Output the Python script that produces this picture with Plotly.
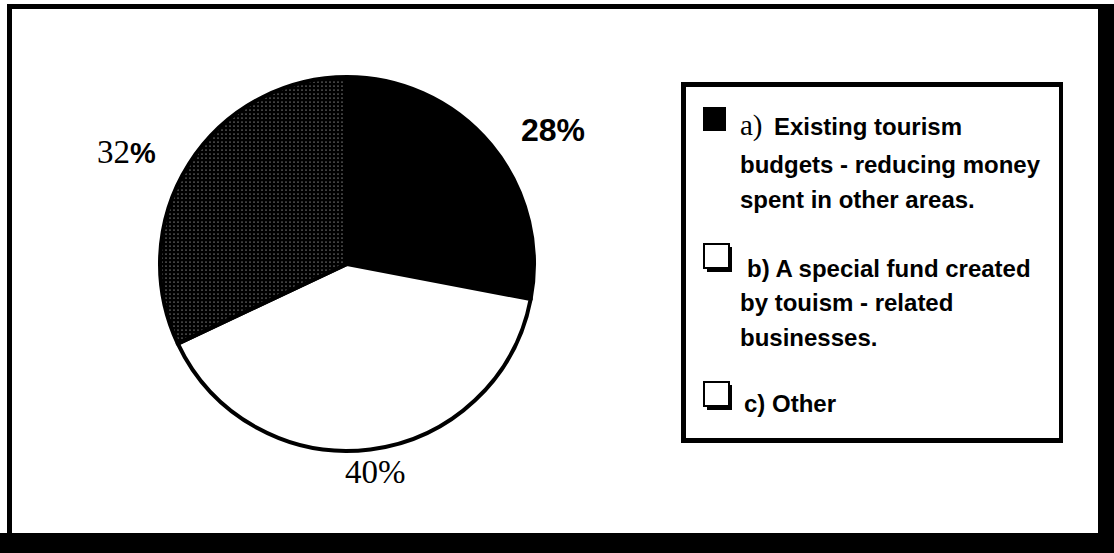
import plotly.graph_objects as go

# Survey answers: how should tourism promotion be funded?
categories = ["a) Existing tourism budgets", "b) Special fund from tourism businesses", "c) Other"]
shares = [28, 40, 32]

# Legend wording, split into the printed lines
legend_lines = [
    ["Existing tourism", "budgets - reducing money", "spent in other areas."],
    ["b) A special fund created", "by touism - related", "businesses."],
    ["c) Other"],
]

W, H = 1114, 553
SANS = "Liberation Sans, Arial, sans-serif"
SERIF = "Liberation Serif, Times New Roman, serif"


def px(x):
    return x / W


def py(y):
    return 1 - y / H


# pie geometry in pixels
cx, cy, r = 347, 264, 187

fig = go.Figure(
    go.Pie(
        labels=categories,
        values=shares,
        sort=False,
        direction="clockwise",
        rotation=0,
        textinfo="none",
        hoverinfo="label+percent",
        showlegend=False,
        marker=dict(
            colors=["black", "white", "black"],
            line=dict(color="black", width=4),
            pattern=dict(
                shape=["", "", "."],
                fgcolor="white",
                bgcolor="black",
                size=4,
                solidity=0.06,
                fillmode="replace",
            ),
        ),
        domain=dict(x=[px(cx - r), px(cx + r)], y=[py(cy + r), py(cy - r)]),
    )
)

shapes = []


def rect(x0, y0, x1, y1, fill, line_color=None, line_width=0, layer="above"):
    shapes.append(
        dict(
            type="rect", xref="paper", yref="paper",
            x0=px(x0), x1=px(x1), y0=py(y1), y1=py(y0),
            fillcolor=fill,
            line=dict(color=line_color or fill, width=line_width),
            layer=layer,
        )
    )


# outer frame with heavy shadow on the right and bottom
rect(7, 4, 1099, 9, "black")
rect(7, 4, 12, 534, "black")
rect(1098, 4, W, H, "black")
rect(0, 533, W, H, "black")

# legend panel
rect(681, 82, 1063, 443, "black")
rect(686, 87, 1059, 438, "white")

# legend swatches: filled square, then two raised check boxes
rect(703, 107, 726, 131, "black")
for top in (244, 382):
    rect(707, top + 3, 732, top + 28, "black")
    rect(704, top, 729, top + 24, "white", "black", 2)

annotations = []


def text(x, y, s, size, family, anchor="left", bold=False, color="black"):
    annotations.append(
        dict(
            xref="paper", yref="paper", x=px(x), y=py(y),
            text=f"<b>{s}</b>" if bold else s,
            showarrow=False, xanchor=anchor, yanchor="middle",
            font=dict(size=size, family=family, color=color),
        )
    )


# slice labels
text(553, 130, f"{shares[0]}%", 32, SANS, anchor="center", bold=True)
text(375, 472, f"{shares[1]}%", 33, SERIF, anchor="center")
text(
    95, 152,
    f"{shares[2]}<span style='font-family:{SANS};font-weight:bold;font-size:29px'>%</span>",
    33, SERIF,
)

# legend text
text(738, 125, "a)", 29, SERIF)
text(772, 126, legend_lines[0][0], 24, SANS, bold=True)
text(738, 164, legend_lines[0][1], 24, SANS, bold=True)
text(738, 199, legend_lines[0][2], 24, SANS, bold=True)
text(745, 268, legend_lines[1][0], 24, SANS, bold=True)
text(738, 302, legend_lines[1][1], 24, SANS, bold=True)
text(738, 337, legend_lines[1][2], 24, SANS, bold=True)
text(742, 403, legend_lines[2][0], 24, SANS, bold=True)

fig.update_layout(
    width=W, height=H,
    margin=dict(l=0, r=0, t=0, b=0),
    paper_bgcolor="white",
    plot_bgcolor="white",
    shapes=shapes,
    annotations=annotations,
)

fig.write_html("out.html")
